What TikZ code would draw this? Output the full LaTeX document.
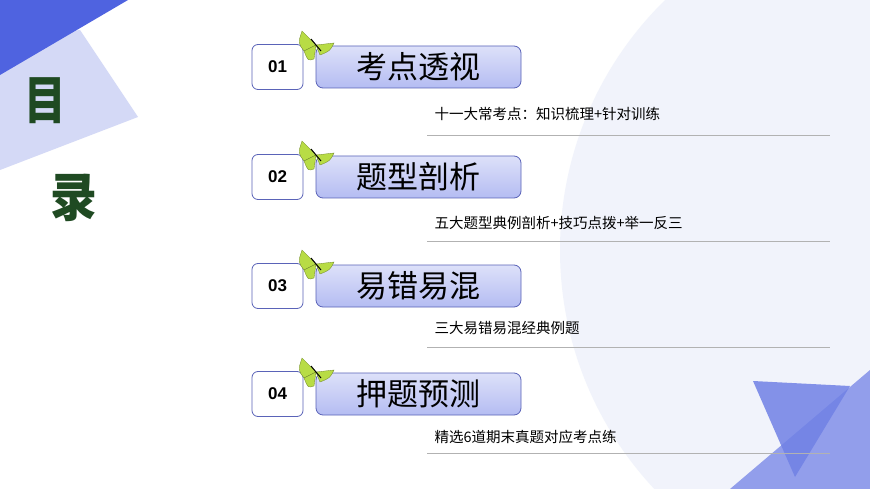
\documentclass[tikz,border=0pt]{standalone}
\usepackage{fontspec}
\setmainfont{Liberation Sans}
\newfontfamily\cjk{Noto Sans CJK SC}
\definecolor{deepblue}{HTML}{4F63E0}
\definecolor{paleblue}{HTML}{D4D9F6}
\definecolor{mistblue}{HTML}{F1F3FB}
\definecolor{edgeblue}{HTML}{5A63B8}
\definecolor{titlefill}{HTML}{B4BCF2}
\definecolor{wingleaf}{HTML}{B8DC45}
\definecolor{inkgreen}{HTML}{1F4A22}
\tikzset{
  numbox/.style={draw=edgeblue,line width=0.8pt,rounded corners=6pt,fill=white,
    minimum width=51pt,minimum height=45pt,font=\bfseries\fontsize{17}{17}\selectfont},
  titlebox/.style={draw=edgeblue,line width=0.8pt,rounded corners=7pt,
    top color=titlefill!45,bottom color=titlefill,
    minimum width=205pt,minimum height=42pt,font=\cjk\fontsize{31}{31}\selectfont},
  subtext/.style={anchor=west,font=\cjk\fontsize{14.5}{15}\selectfont},
  rule/.style={draw=gray!60,line width=0.7pt},
  wing/.style={fill=wingleaf,draw=wingleaf!60!black,line width=0.3pt}
}
\newcommand{\butterfly}[1]{%
  \begin{scope}[shift={#1}]
    \fill[wing] (0,0) -- (-14,-14) .. controls (-18,-2) .. (-12,6) -- cycle;
    \fill[wing] (0,0) -- (-12,6) .. controls (-8,16) .. (-2,14) -- cycle;
    \fill[wing] (0,0) -- (18,-2) .. controls (14,6) .. (4,10) -- cycle;
    \draw[black,line width=1pt] (-5,-6) -- (5,6);
  \end{scope}}
\begin{document}
\begin{tikzpicture}[x=1pt,y=-1pt]
\useasboundingbox (0,0) rectangle (870,489);
\fill[white] (0,0) rectangle (870,489);
% background shapes
\begin{scope}
  \clip (0,0) rectangle (870,489);
  \fill[mistblue] (910,250) circle (350);
  \fill[paleblue] (0,40) -- (80,30) -- (138,117) -- (0,170) -- cycle;
  \fill[deepblue] (0,0) -- (128,0) -- (0,75) -- cycle;
  \fill[deepblue!50!paleblue] (730,489) -- (870,370) -- (870,489) -- cycle;
  \fill[deepblue!75!paleblue,opacity=0.85] (753,381) -- (850,386) -- (795,477) -- cycle;
\end{scope}
\node[text=inkgreen,font=\cjk\bfseries\fontsize{52}{52}\selectfont,xscale=0.8] (mu) at (45,101) {目};
\node[text=inkgreen,font=\cjk\bfseries\fontsize{52}{52}\selectfont,xscale=0.9] (lu) at (74,198) {录};
% four entries
\foreach \n/\t/\s/\ya/\yb/\yc [count=\i] in {01/考点透视/十一大常考点：知识梳理+针对训练/67/114/135,
  02/题型剖析/五大题型典例剖析+技巧点拨+举一反三/177/223/241,
  03/易错易混/三大易错易混经典例题/286/328/347,
  04/押题预测/精选6道期末真题对应考点练/394/437/453}{
  \node[numbox] (num\i) at (277.5,\ya) {\n};
  \node[titlebox] (title\i) at (418.5,\ya) {\t};
  \butterfly{(316,\ya-22)}
  \node[subtext] (sub\i) at (431,\yb) {\s};
  \coordinate (rs\i) at (427,\yc);
  \coordinate (re\i) at (830,\yc);
  \draw[rule] (rs\i) -- (re\i);
}
\end{tikzpicture}
\end{document}
